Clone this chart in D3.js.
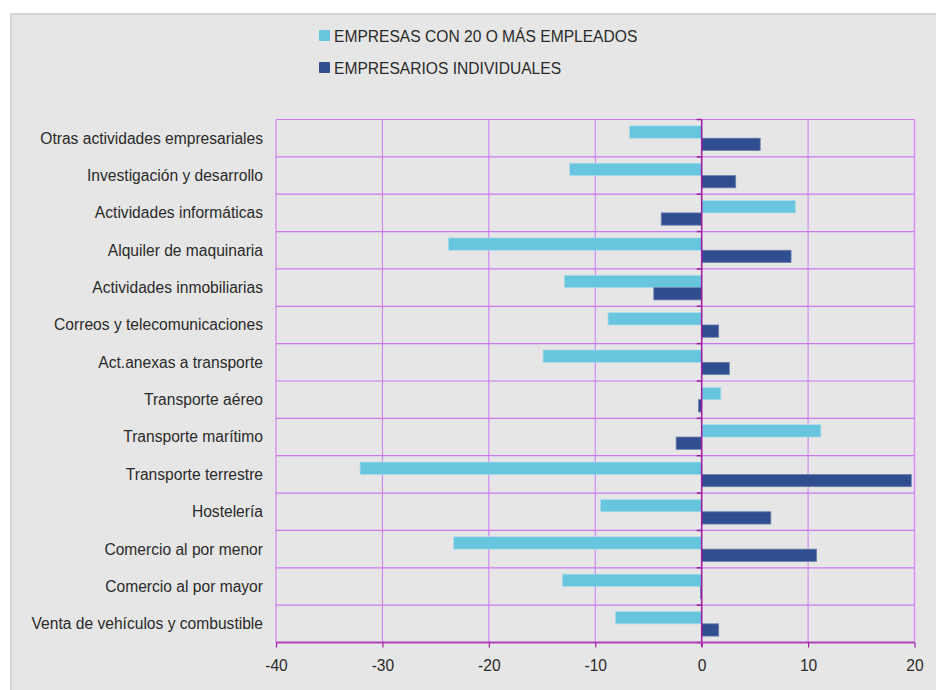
<!DOCTYPE html>
<html>
<head>
<meta charset="utf-8">
<script src="https://cdn.jsdelivr.net/npm/d3@7/dist/d3.min.js"></script>
<style>
  html, body { margin: 0; padding: 0; background: #ffffff; }
  svg { display: block; }
  text { font-family: "Liberation Sans", Arial, Helvetica, sans-serif; fill: #2a2a2a; }
</style>
</head>
<body>
<svg id="chart" width="936" height="690"></svg>
<script>
const categories = [
  "Otras actividades empresariales",
  "Investigación y desarrollo",
  "Actividades informáticas",
  "Alquiler de maquinaria",
  "Actividades inmobiliarias",
  "Correos y telecomunicaciones",
  "Act.anexas a transporte",
  "Transporte aéreo",
  "Transporte marítimo",
  "Transporte terrestre",
  "Hostelería",
  "Comercio al por menor",
  "Comercio al por mayor",
  "Venta de vehículos y combustible"
];
const seriesNames = ["EMPRESAS CON 20 O MÁS EMPLEADOS", "EMPRESARIOS INDIVIDUALES"];
const empresas20 = [-6.8, -12.4, 8.8, -23.8, -12.9, -8.8, -14.9, 1.8, 11.2, -32.1, -9.5, -23.3, -13.1, -8.1];
const individuales = [5.5, 3.2, -3.8, 8.4, -4.5, 1.6, 2.6, -0.3, -2.4, 19.7, 6.5, 10.8, -0.1, 1.6];
const xTicks = [-40, -30, -20, -10, 0, 10, 20];

const colors = ["#67c5de", "#2f4d8f"];
const svg = d3.select("#chart");
const FS = 15.6;

// panel background
svg.append("rect").attr("x", 10).attr("y", 13).attr("width", 926).attr("height", 677).attr("fill", "#e6e6e6");
svg.append("line").attr("x1", 10).attr("x2", 936).attr("y1", 14).attr("y2", 14).attr("stroke", "#d6d6d6").attr("stroke-width", 2);
svg.append("line").attr("x1", 11).attr("x2", 11).attr("y1", 13).attr("y2", 690).attr("stroke", "#d6d6d6").attr("stroke-width", 2);

const L = 276, R = 914.5, T = 119.5, B = 642.5;
const x = d3.scaleLinear().domain([-40, 20]).range([L, R]);
const y = d3.scaleBand().domain(categories).range([T, B]);
const half = 12.3;
const inner = d3.scaleBand().domain([0, 1])
  .range([y.bandwidth() / 2 - half, y.bandwidth() / 2 + half]).padding(0);

// grid
const grid = svg.append("g");
grid.selectAll("line.v").data(xTicks).join("line")
  .attr("x1", d => x(d)).attr("x2", d => x(d)).attr("y1", T).attr("y2", B)
  .attr("stroke", "#cc77f2").attr("stroke-width", 1);
grid.selectAll("line.h").data(d3.range(categories.length + 1)).join("line")
  .attr("x1", L).attr("x2", R)
  .attr("y1", i => T + i * y.step()).attr("y2", i => T + i * y.step())
  .attr("stroke", "#cc77f2").attr("stroke-width", 1.2);
svg.append("line").attr("x1", R).attr("x2", R).attr("y1", T).attr("y2", B)
  .attr("stroke", "#d98cff").attr("stroke-width", 1.5);

// bars
const series = [empresas20, individuales];
series.forEach((vals, si) => {
  svg.append("g").selectAll("rect").data(vals).join("rect")
    .attr("x", d => x(Math.min(0, d)))
    .attr("width", d => Math.abs(x(d) - x(0)))
    .attr("y", (d, i) => y(categories[i]) + inner(si))
    .attr("height", inner.bandwidth())
    .attr("fill", colors[si])
    .attr("stroke", si === 0 ? "#a9d9e8" : "#6f82b0")
    .attr("stroke-width", 0.8);
});

// zero axis with small ticks
svg.append("line").attr("x1", x(0)).attr("x2", x(0)).attr("y1", T).attr("y2", B + 4)
  .attr("stroke", "#9b1aa0").attr("stroke-width", 1.5);
svg.append("g").selectAll("line").data(d3.range(categories.length + 1)).join("line")
  .attr("x1", x(0) - 5).attr("x2", x(0))
  .attr("y1", i => T + i * y.step()).attr("y2", i => T + i * y.step())
  .attr("stroke", "#9b1aa0").attr("stroke-width", 1.5);

// bottom axis
const xAxis = d3.axisBottom(x).tickValues(xTicks).tickSize(5).tickPadding(12).tickFormat(d3.format("d"));
const ax = svg.append("g").attr("transform", `translate(0,${B})`).call(xAxis);
ax.select(".domain").attr("stroke", "#b040b8").attr("stroke-width", 1.8).attr("d", `M${L},0H${R}`);
ax.selectAll(".tick line").attr("stroke", "#a020a8").attr("stroke-width", 1.2);
ax.selectAll(".tick text").attr("font-size", FS).attr("fill", "#2a2a2a")
  .attr("font-family", "'Liberation Sans', Arial, sans-serif").text(d => d < 0 ? "-" + Math.abs(d) : d);

// category labels
svg.append("g").selectAll("text").data(categories).join("text")
  .attr("x", 263).attr("y", d => y(d) + y.bandwidth() / 2)
  .attr("dy", "0.35em").attr("text-anchor", "end").attr("font-size", FS).text(d => d);

// legend
const lg = svg.append("g");
seriesNames.forEach((n, i) => {
  const cy = 36 + i * 32;
  lg.append("rect").attr("x", 319).attr("y", cy - 6).attr("width", 11).attr("height", 11)
    .attr("fill", colors[i]).attr("rx", 1);
  lg.append("text").attr("x", 334).attr("y", cy).attr("dy", "0.36em")
    .attr("font-size", FS).text(n);
});
</script>
</body>
</html>
